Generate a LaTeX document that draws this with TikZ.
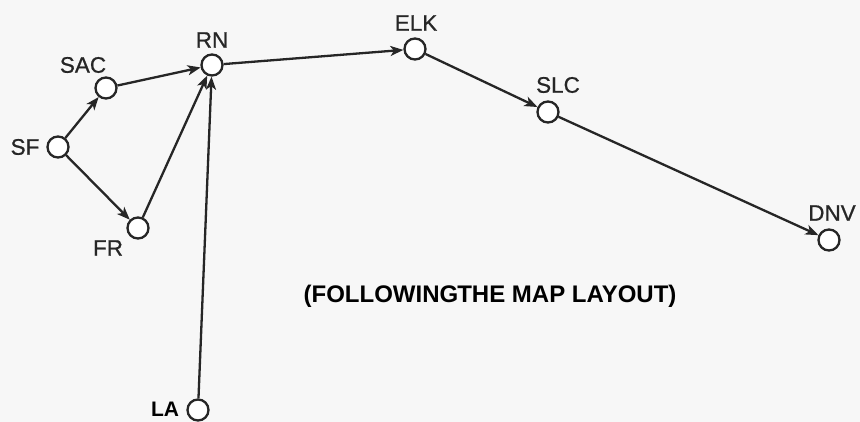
\documentclass[tikz,border=0pt]{standalone}
\usepackage{fontspec}
\setmainfont{Liberation Sans}
\usetikzlibrary{arrows.meta}
\begin{document}
\begin{tikzpicture}[x=1pt,y=-1pt,
  city/.style={draw=black!85,circle,minimum size=21pt,inner sep=0pt,line width=2.3pt,fill=white},
  lbl/.style={font=\fontsize{22.5}{24}\selectfont\addfontfeature{FakeBold=0.8},text=black!85,inner sep=0pt},
  blbl/.style={font=\fontsize{21}{23}\selectfont\bfseries,text=black,inner sep=0pt},
  link/.style={draw=black!85,line width=2.3pt,-{Stealth[length=13pt,width=10pt,inset=3.5pt]}}]
  % page
  \fill[black!3] (0,0) rectangle (860,422);
  \useasboundingbox (0,0) rectangle (860,422);
  % cities
  \node[city] (SF)  at (58,147)  {};
  \node[city] (SAC) at (106,88)  {};
  \node[city] (RN)  at (212,65)  {};
  \node[city] (ELK) at (415,49)  {};
  \node[city] (SLC) at (548,112) {};
  \node[city] (DNV) at (829,240) {};
  \node[city] (FR)  at (138,228) {};
  \node[city] (LA)  at (198,410) {};
  % names
  \node[lbl]  (SFt)  at (25,147)  {SF};
  \node[lbl]  (SACt) at (83,65)   {SAC};
  \node[lbl]  (RNt)  at (212,40)  {RN};
  \node[lbl]  (ELKt) at (416,23)  {ELK};
  \node[lbl]  (SLCt) at (558,85)  {SLC};
  \node[lbl]  (DNVt) at (832,213) {DNV};
  \node[lbl]  (FRt)  at (108,248) {FR};
  \node[blbl] (LAt)  at (165,409) {LA};
  % routes
  \draw[link] (SF) -- (SAC);
  \draw[link] (SF) -- (FR);
  \draw[link] (SAC) -- (RN);
  \draw[link] (FR) -- (RN);
  \draw[link] (LA) -- (RN);
  \draw[link] (RN) -- (ELK);
  \draw[link] (ELK) -- (SLC);
  \draw[link] (SLC) -- (DNV);
  % caption
  \node[font=\fontsize{24}{26}\selectfont\bfseries,inner sep=0pt] (cap) at (490,296)
    {(FOLLOWING\kern-1pt THE MAP LAYOUT)};
\end{tikzpicture}
\end{document}
